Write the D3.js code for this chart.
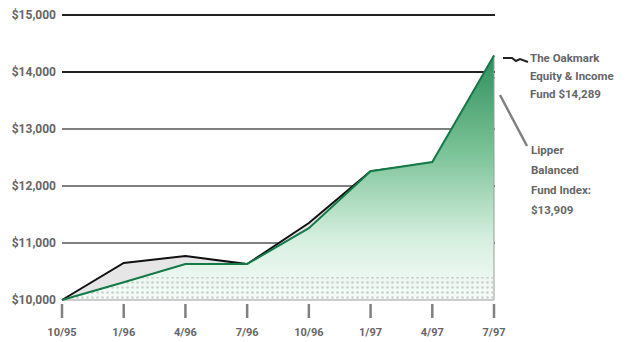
<!DOCTYPE html>
<html>
<head>
<meta charset="utf-8">
<script src="https://cdn.jsdelivr.net/npm/d3@7"></script>
<style>
  body { margin: 0; background: #fff; }
  text { font-family: "Liberation Sans Narrow", "Roboto", sans-serif; font-weight: bold; fill: #666; }
</style>
</head>
<body>
<svg id="chart" width="630" height="342"></svg>
<script>
const quarters = ["10/95", "1/96", "4/96", "7/96", "10/96", "1/97", "4/97", "7/97"];
const oakmarkValues = [10000, 10310, 10630, 10630, 11260, 12260, 12420, 14289];
const lipperValues = [10000, 10650, 10770, 10630, 11350, 12260, 12400, 13909];
const yTicks = [10000, 11000, 12000, 13000, 14000, 15000];
const oakmarkLabel = ["The Oakmark", "Equity & Income", "Fund $14,289"];
const lipperLabel = ["Lipper", "Balanced", "Fund Index:", "$13,909"];

const svg = d3.select("#chart");

const x = d3.scalePoint().domain(quarters).range([62, 494]);
const y = d3.scaleLinear().domain([10000, 15000]).range([300, 15]);

const area = d3.area()
    .x((d, i) => x(quarters[i]))
    .y0(y(10000))
    .y1(d => y(d));

const line = d3.line()
    .x((d, i) => x(quarters[i]))
    .y(d => y(d));

// gradient for the fund area
const defs = svg.append("defs");
const grad = defs.append("linearGradient")
    .attr("id", "greenFill")
    .attr("gradientUnits", "userSpaceOnUse")
    .attr("x1", 0).attr("x2", 0)
    .attr("y1", y(14289)).attr("y2", y(10000));
grad.append("stop").attr("offset", 0).attr("stop-color", "#2f8f5c");
grad.append("stop").attr("offset", 0.4).attr("stop-color", "#7cc398");
grad.append("stop").attr("offset", 0.75).attr("stop-color", "#d6efdf");
grad.append("stop").attr("offset", 1).attr("stop-color", "#f7fcf9");

const dots = defs.append("pattern")
    .attr("id", "dots")
    .attr("patternUnits", "userSpaceOnUse")
    .attr("width", 5).attr("height", 5);
dots.append("circle").attr("cx", 2.5).attr("cy", 2.5).attr("r", 1.3).attr("fill", "#c9cfcb");

defs.append("clipPath").attr("id", "oakClip")
    .append("path").attr("d", area(oakmarkValues));

// grid lines
svg.selectAll(".grid")
    .data(yTicks.filter(d => d > 10000))
    .enter().append("line")
    .attr("x1", 62).attr("x2", 495)
    .attr("y1", d => y(d)).attr("y2", d => y(d))
    .attr("stroke", d => d >= 14000 ? "#222" : "#808080")
    .attr("stroke-width", 2);

// y labels
svg.selectAll(".ylab")
    .data(yTicks)
    .enter().append("text")
    .attr("x", 56)
    .attr("y", d => y(d) + 4)
    .attr("text-anchor", "end")
    .attr("font-size", 12)
    .text(d => "$" + d3.format(",")(d));

// x ticks and labels
svg.selectAll(".xtick")
    .data(quarters)
    .enter().append("line")
    .attr("x1", d => x(d)).attr("x2", d => x(d))
    .attr("y1", 304).attr("y2", 318)
    .attr("stroke", "#808080")
    .attr("stroke-width", 2.5);

svg.selectAll(".xlab")
    .data(quarters)
    .enter().append("text")
    .attr("x", d => x(d))
    .attr("y", 336)
    .attr("text-anchor", "middle")
    .attr("font-size", 11)
    .text(d => d);

// Lipper area and line go underneath
svg.append("path")
    .attr("d", area(lipperValues))
    .attr("fill", "#e6e6e6");
svg.append("path")
    .attr("d", line(lipperValues))
    .attr("fill", "none")
    .attr("stroke", "#111")
    .attr("stroke-width", 2);

// Oakmark area
svg.append("path")
    .attr("d", area(oakmarkValues))
    .attr("fill", "url(#greenFill)")
    .attr("stroke", "#9a9a9a")
    .attr("stroke-width", 1);

// dotted band near the bottom, inside the fund area
svg.append("rect")
    .attr("clip-path", "url(#oakClip)")
    .attr("x", 62).attr("y", 277)
    .attr("width", 433).attr("height", 23)
    .attr("fill", "url(#dots)");

svg.append("path")
    .attr("d", line(oakmarkValues))
    .attr("fill", "none")
    .attr("stroke", "#137a48")
    .attr("stroke-width", 2);

// callouts
svg.append("path")
    .attr("d", "M503,58 L512,58 L516,61 L520,59 L528,62")
    .attr("fill", "none")
    .attr("stroke", "#222")
    .attr("stroke-width", 2);

svg.append("text")
    .attr("font-size", 11.5)
    .selectAll("tspan")
    .data(oakmarkLabel)
    .enter().append("tspan")
    .attr("x", 530)
    .attr("y", (d, i) => 62 + i * 18)
    .text(d => d);

svg.append("line")
    .attr("x1", 500).attr("y1", 95)
    .attr("x2", 527).attr("y2", 146)
    .attr("stroke", "#808080")
    .attr("stroke-width", 2.5);

svg.append("text")
    .attr("font-size", 11.5)
    .selectAll("tspan")
    .data(lipperLabel)
    .enter().append("tspan")
    .attr("x", 531)
    .attr("y", (d, i) => 154 + i * 20)
    .text(d => d);
</script>
</body>
</html>
